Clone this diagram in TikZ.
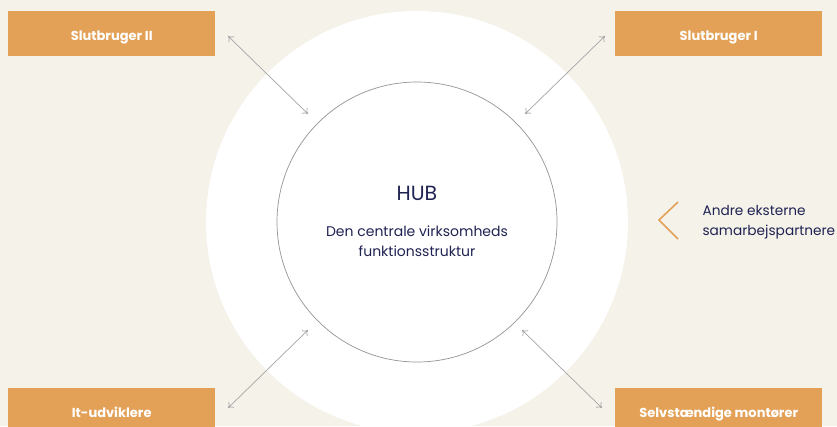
\documentclass[tikz,border=0pt]{standalone}
\usepackage{fontspec}
\usetikzlibrary{arrows.meta}
\setmainfont{Poppins}
\definecolor{bg}{HTML}{F5F2EA}
\definecolor{orng}{HTML}{E3A157}
\definecolor{navy}{HTML}{1F2352}
\definecolor{arr}{HTML}{A5A5A5}
\begin{document}
\begin{tikzpicture}[x=1pt,y=-1pt,
  box/.style={fill=orng,minimum width=207pt,minimum height=45pt,inner sep=0pt,text height=15pt,text depth=2pt,text=white,font=\fontsize{13}{15}\selectfont\bfseries,anchor=north west},
  link/.style={draw=arr,line width=0.7pt,{To[length=5pt,width=8pt]}-{To[length=5pt,width=8pt]}},
  navytext/.style={text=navy,align=center}]
\fill[bg] (0,0) rectangle (837,426);
\useasboundingbox (0,0) rectangle (837,426);
\fill[white] (417,222) circle[radius=211];
\node[circle,draw=arr!90!black,line width=0.7pt,minimum size=280pt,inner sep=0pt] (hub) at (417,222) {};
\node[navytext,font=\fontsize{20.5}{24}\selectfont] (hubt) at (417,193) {HUB};
\node[navytext,font=\fontsize{14}{20}\selectfont] (hubd) at (417,241) {Den centrale virksomheds\\funktionsstruktur};
\node[box] (sb2) at (8,11) {Slutbruger II};
\node[box] (sb1) at (615,11) {Slutbruger I};
\node[box] (itu) at (8,388) {It-udviklere};
\node[box] (smo) at (615,388) {Selvstændige montører};
\coordinate (a1) at (228,36); \coordinate (b1) at (308,114);
\coordinate (a2) at (605,36); \coordinate (b2) at (525,114);
\coordinate (a3) at (228,408); \coordinate (b3) at (308,330);
\coordinate (a4) at (602,408); \coordinate (b4) at (522,330);
\draw[link] (a1) -- (b1);
\draw[link] (a2) -- (b2);
\draw[link] (a3) -- (b3);
\draw[link] (a4) -- (b4);
\coordinate (c1) at (678,202); \coordinate (c2) at (659,220); \coordinate (c3) at (678,239);
\draw[orng,line width=1.6pt] (c1) -- (c2) -- (c3);
\node[navytext,align=left,anchor=west,font=\fontsize{13.7}{20}\selectfont] (ext) at (699,222) {Andre eksterne\\samarbejspartnere};
\end{tikzpicture}
\end{document}
